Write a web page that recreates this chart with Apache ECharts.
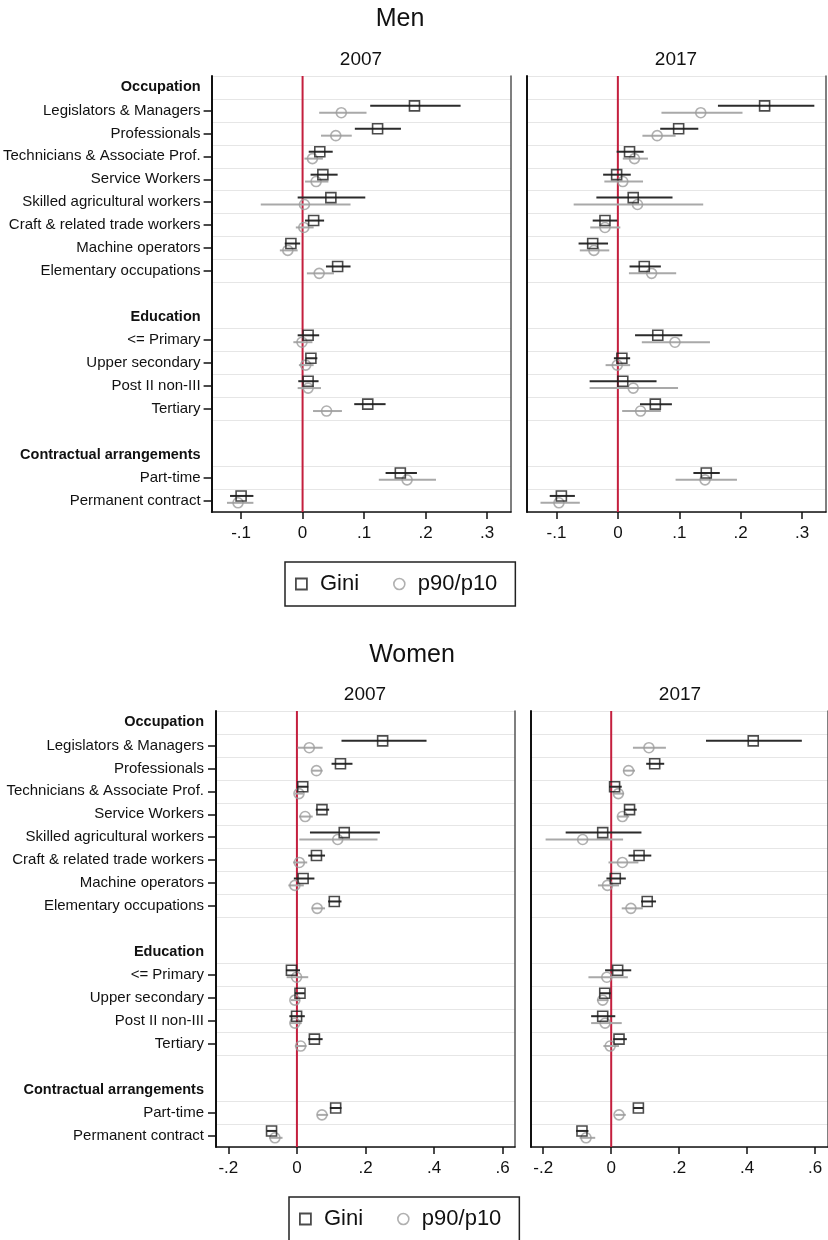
<!DOCTYPE html>
<html>
<head>
<meta charset="utf-8">
<title>Inequality decomposition: Men and Women, 2007 vs 2017</title>
<script src="https://cdn.jsdelivr.net/npm/echarts@6/dist/echarts.min.js"></script>
<style>
  html, body { margin: 0; padding: 0; background: #fff; }
  #chart { width: 828px; height: 1240px; }
</style>
</head>
<body>
<div id="chart"></div>
<script>
// Row layout of every panel (top to bottom); headers are bold, blanks are spacers
const rowLabels = [
  'Occupation', 'Legislators & Managers', 'Professionals', 'Technicians & Associate Prof.',
  'Service Workers', 'Skilled agricultural workers', 'Craft & related trade workers',
  'Machine operators', 'Elementary occupations', ' ',
  'Education', '<= Primary', 'Upper secondary', 'Post II non-III', 'Tertiary', '  ',
  'Contractual arrangements', 'Part-time', 'Permanent contract'
];
const headerLabels = ['Occupation', 'Education', 'Contractual arrangements'];
// row index of each coefficient, in the order of the value arrays below
const coefRows = [1, 2, 3, 4, 5, 6, 7, 8, 11, 12, 13, 14, 17, 18];

// Coefficients: [estimate, lower CI, upper CI]
const menGini2007 = [
  [0.182, 0.110, 0.257], [0.122, 0.085, 0.160], [0.028, 0.010, 0.049], [0.033, 0.013, 0.057],
  [0.046, -0.008, 0.102], [0.018, 0.004, 0.035], [-0.019, -0.029, -0.004], [0.057, 0.038, 0.078],
  [0.009, -0.008, 0.027], [0.0135, 0.005, 0.024], [0.009, -0.007, 0.026], [0.106, 0.084, 0.135],
  [0.159, 0.135, 0.186], [-0.100, -0.118, -0.080]
];
const menP90_2007 = [
  [0.063, 0.027, 0.104], [0.054, 0.030, 0.080], [0.016, 0.003, 0.033], [0.022, 0.004, 0.042],
  [0.003, -0.068, 0.078], [0.002, -0.011, 0.018], [-0.024, -0.037, -0.008], [0.027, 0.007, 0.051],
  [-0.001, -0.015, 0.016], [0.005, -0.006, 0.018], [0.009, -0.008, 0.030], [0.039, 0.017, 0.064],
  [0.170, 0.124, 0.217], [-0.105, -0.123, -0.080]
];
const menGini2017 = [
  [0.239, 0.163, 0.320], [0.099, 0.069, 0.131], [0.019, -0.002, 0.042], [-0.002, -0.024, 0.021],
  [0.025, -0.035, 0.089], [-0.021, -0.041, -0.001], [-0.041, -0.064, -0.016], [0.043, 0.019, 0.070],
  [0.065, 0.028, 0.105], [0.0065, -0.0065, 0.020], [0.008, -0.046, 0.063], [0.061, 0.036, 0.088],
  [0.144, 0.123, 0.166], [-0.092, -0.111, -0.070]
];
const menP90_2017 = [
  [0.135, 0.071, 0.203], [0.064, 0.040, 0.094], [0.027, 0.008, 0.049], [0.008, -0.022, 0.041],
  [0.032, -0.072, 0.139], [-0.021, -0.045, 0.004], [-0.039, -0.062, -0.014], [0.055, 0.018, 0.095],
  [0.093, 0.039, 0.150], [-0.001, -0.020, 0.020], [0.025, -0.046, 0.098], [0.037, 0.007, 0.070],
  [0.142, 0.094, 0.194], [-0.096, -0.126, -0.062]
];
const womenGini2007 = [
  [0.250, 0.130, 0.378], [0.127, 0.101, 0.162], [0.017, 0.001, 0.033], [0.073, 0.055, 0.094],
  [0.138, 0.038, 0.242], [0.057, 0.033, 0.082], [0.018, -0.009, 0.051], [0.109, 0.091, 0.130],
  [-0.016, -0.032, 0.009], [0.009, -0.006, 0.023], [-0.001, -0.022, 0.023], [0.051, 0.033, 0.075],
  [0.113, 0.096, 0.130], [-0.074, -0.088, -0.059]
];
const womenP90_2007 = [
  [0.036, 0.002, 0.075], [0.057, 0.043, 0.075], [0.006, -0.006, 0.018], [0.024, 0.006, 0.046],
  [0.119, 0.007, 0.235], [0.007, -0.011, 0.030], [-0.006, -0.025, 0.020], [0.059, 0.043, 0.082],
  [-0.001, -0.030, 0.033], [-0.006, -0.018, 0.009], [-0.006, -0.020, 0.014], [0.011, -0.006, 0.028],
  [0.073, 0.059, 0.091], [-0.064, -0.081, -0.042]
];
const womenGini2017 = [
  [0.418, 0.279, 0.561], [0.128, 0.103, 0.156], [0.010, -0.006, 0.031], [0.054, 0.038, 0.075],
  [-0.025, -0.134, 0.089], [0.082, 0.051, 0.118], [0.012, -0.014, 0.043], [0.106, 0.088, 0.132],
  [0.019, -0.018, 0.059], [-0.019, -0.033, -0.001], [-0.025, -0.059, 0.012], [0.023, 0.006, 0.046],
  [0.080, 0.065, 0.094], [-0.086, -0.103, -0.067]
];
const womenP90_2017 = [
  [0.111, 0.064, 0.161], [0.051, 0.035, 0.070], [0.021, 0.007, 0.038], [0.033, 0.019, 0.053],
  [-0.084, -0.193, 0.035], [0.033, -0.008, 0.080], [-0.011, -0.039, 0.023], [0.058, 0.031, 0.093],
  [-0.013, -0.067, 0.049], [-0.025, -0.042, -0.008], [-0.018, -0.059, 0.031], [-0.003, -0.023, 0.023],
  [0.023, 0.012, 0.043], [-0.074, -0.093, -0.047]
];

// x-axis tick values
const menTicks = [-0.1, 0, 0.1, 0.2, 0.3];
const womenTicks = [-0.2, 0, 0.2, 0.4, 0.6];

const FONT = "'Liberation Sans', Arial, Helvetica, sans-serif";
const INK = '#111';
const GINI_COLOR = '#1e1e1e';
const P90_COLOR = '#9c9c9c';
const ZERO_COLOR = '#c41f3e';
const GINI_SHIFT = -0.2;   // vertical offset of Gini within a row
const P90_SHIFT = 0.1;     // vertical offset of p90/p10 within a row

// gridlines sit on the boundary above these category indices
const splitIdx = new Set([0, 1, 2, 3, 4, 5, 6, 7, 8, 9, 11, 12, 13, 14, 15, 17, 18]);

const panels = [
  { grid: { left: 211, top: 76, width: 300, height: 436 }, xMin: -0.148, xMax: 0.339,
    ticks: menTicks, gini: menGini2007, p90: menP90_2007, showLabels: true, labelMargin: 11 },
  { grid: { left: 527, top: 76, width: 299, height: 436 }, xMin: -0.148, xMax: 0.339,
    ticks: menTicks, gini: menGini2017, p90: menP90_2017, showLabels: false, labelMargin: 11 },
  { grid: { left: 216, top: 711, width: 299, height: 436 }, xMin: -0.236, xMax: 0.636,
    ticks: womenTicks, gini: womenGini2007, p90: womenP90_2007, showLabels: true, labelMargin: 12 },
  { grid: { left: 531, top: 711, width: 300, height: 436 }, xMin: -0.236, xMax: 0.638,
    ticks: womenTicks, gini: womenGini2017, p90: womenP90_2017, showLabels: false, labelMargin: 12 }
];

function fmtTick(v) {
  if (Math.abs(v) < 1e-9) return '0';
  const s = Math.abs(v).toFixed(1).replace(/^0/, '');
  return (v < 0 ? '-' : '') + s;
}

function ciRenderer(color) {
  return function (params, api) {
    const y = api.value(2);
    const a = api.coord([api.value(0), y]);
    const b = api.coord([api.value(1), y]);
    return {
      type: 'line',
      shape: { x1: a[0], y1: a[1], x2: b[0], y2: b[1] },
      style: { stroke: color, lineWidth: 2 }
    };
  };
}

function zeroRenderer(params, api) {
  const a = api.coord([api.value(0), api.value(1)]);
  const b = api.coord([api.value(0), api.value(2)]);
  return {
    type: 'line',
    shape: { x1: a[0], y1: a[1], x2: b[0], y2: b[1] },
    style: { stroke: ZERO_COLOR, lineWidth: 2 }
  };
}

const grids = [], xAxes = [], yAxes = [], series = [];

panels.forEach((p, i) => {
  grids.push(Object.assign({ containLabel: false }, p.grid));

  xAxes.push({
    type: 'value', gridIndex: i, min: p.xMin, max: p.xMax,
    axisLine: { show: true, onZero: false, lineStyle: { color: INK, width: 1.5 } },
    axisTick: { show: true, length: 7, customValues: p.ticks, lineStyle: { color: INK, width: 1.5 } },
    axisLabel: { customValues: p.ticks, formatter: fmtTick, fontSize: 17, color: INK,
                 fontFamily: FONT, margin: 13 },
    splitLine: { show: false }
  });

  // category axis: row labels, ticks and between-row gridlines
  yAxes.push({
    type: 'category', gridIndex: i, position: 'left', data: rowLabels, inverse: true,
    boundaryGap: true,
    axisLine: { show: true, onZero: false, lineStyle: { color: INK, width: 2 } },
    axisTick: { show: p.showLabels, alignWithLabel: true, length: 8,
                interval: (idx) => coefRows.indexOf(idx) >= 0,
                lineStyle: { color: INK, width: 1.5 } },
    axisLabel: {
      show: p.showLabels, interval: 0, fontSize: 15, color: INK, fontFamily: FONT,
      margin: p.labelMargin,
      formatter: (v) => headerLabels.indexOf(v) >= 0 ? '{h|' + v + '}' : v,
      rich: { h: { fontWeight: 'bold', fontSize: 14.5, color: INK, fontFamily: FONT } }
    },
    splitLine: { show: true, interval: (idx) => splitIdx.has(idx),
                 lineStyle: { color: '#e6e6e6', width: 1 } }
  });
  // value axis: positions the marks; its line closes the panel on the right
  yAxes.push({
    type: 'value', gridIndex: i, position: 'right', min: -0.5, max: 18.5, inverse: true,
    axisLine: { show: true, onZero: false, lineStyle: { color: '#555', width: 1.5 } },
    axisTick: { show: false }, axisLabel: { show: false }, splitLine: { show: false }
  });

  const yIdx = i * 2 + 1;
  series.push({
    type: 'custom', name: 'zero', xAxisIndex: i, yAxisIndex: yIdx, silent: true, z: 1,
    data: [[0, -0.5, 18.5]], encode: { x: 0, y: [1, 2] }, renderItem: zeroRenderer
  });
  series.push({
    type: 'custom', name: 'p90/p10 CI', xAxisIndex: i, yAxisIndex: yIdx, silent: true, z: 2,
    data: p.p90.map((d, k) => [d[1], d[2], coefRows[k] + P90_SHIFT]),
    encode: { x: [0, 1], y: 2 }, renderItem: ciRenderer('#a9a9a9')
  });
  series.push({
    type: 'custom', name: 'Gini CI', xAxisIndex: i, yAxisIndex: yIdx, silent: true, z: 2,
    data: p.gini.map((d, k) => [d[1], d[2], coefRows[k] + GINI_SHIFT]),
    encode: { x: [0, 1], y: 2 }, renderItem: ciRenderer('#2b2b2b')
  });
  series.push({
    type: 'scatter', name: 'p90/p10', xAxisIndex: i, yAxisIndex: yIdx, z: 3,
    symbol: 'circle', symbolSize: 10,
    itemStyle: { color: 'rgba(255,255,255,0)', borderColor: P90_COLOR, borderWidth: 1.6 },
    data: p.p90.map((d, k) => [d[0], coefRows[k] + P90_SHIFT])
  });
  series.push({
    type: 'scatter', name: 'Gini', xAxisIndex: i, yAxisIndex: yIdx, z: 4,
    symbol: 'rect', symbolSize: 10,
    itemStyle: { color: 'rgba(255,255,255,0)', borderColor: GINI_COLOR, borderWidth: 1.6 },
    data: p.gini.map((d, k) => [d[0], coefRows[k] + GINI_SHIFT])
  });
});

const legendItems = [
  { name: 'Gini', icon: 'path://M0,0L10,0L10,10L0,10Z',
    itemStyle: { color: 'rgba(255,255,255,0)', borderColor: GINI_COLOR, borderWidth: 1.8 } },
  { name: 'p90/p10', icon: 'circle',
    itemStyle: { color: 'rgba(255,255,255,0)', borderColor: P90_COLOR, borderWidth: 1.6 } }
];
function makeLegend(left, top) {
  return {
    data: legendItems, left: left, top: top, orient: 'horizontal', selectedMode: false,
    itemWidth: 27, itemHeight: 11, itemGap: 34, symbolKeepAspect: true,
    padding: [11, 18, 11, 10],
    borderColor: '#222', borderWidth: 1.5, borderRadius: 0,
    textStyle: { fontSize: 22, color: INK, fontFamily: FONT }
  };
}

function caption(text, x, y, size) {
  return {
    type: 'text', x: x, y: y, silent: true,
    style: { text: text, fill: INK, font: size + 'px ' + FONT, align: 'center', verticalAlign: 'middle' }
  };
}

const chart = echarts.init(document.getElementById('chart'), null, { renderer: 'canvas' });
chart.setOption({
  animation: false,
  backgroundColor: '#fff',
  grid: grids,
  xAxis: xAxes,
  yAxis: yAxes,
  series: series,
  legend: [makeLegend(285, 562), makeLegend(289, 1197)],
  graphic: [
    caption('Men', 400, 19, 25),
    caption('2007', 361, 60, 19),
    caption('2017', 676, 60, 19),
    caption('Women', 412, 655, 25),
    caption('2007', 365, 695, 19),
    caption('2017', 680, 695, 19)
  ]
});
</script>
</body>
</html>
